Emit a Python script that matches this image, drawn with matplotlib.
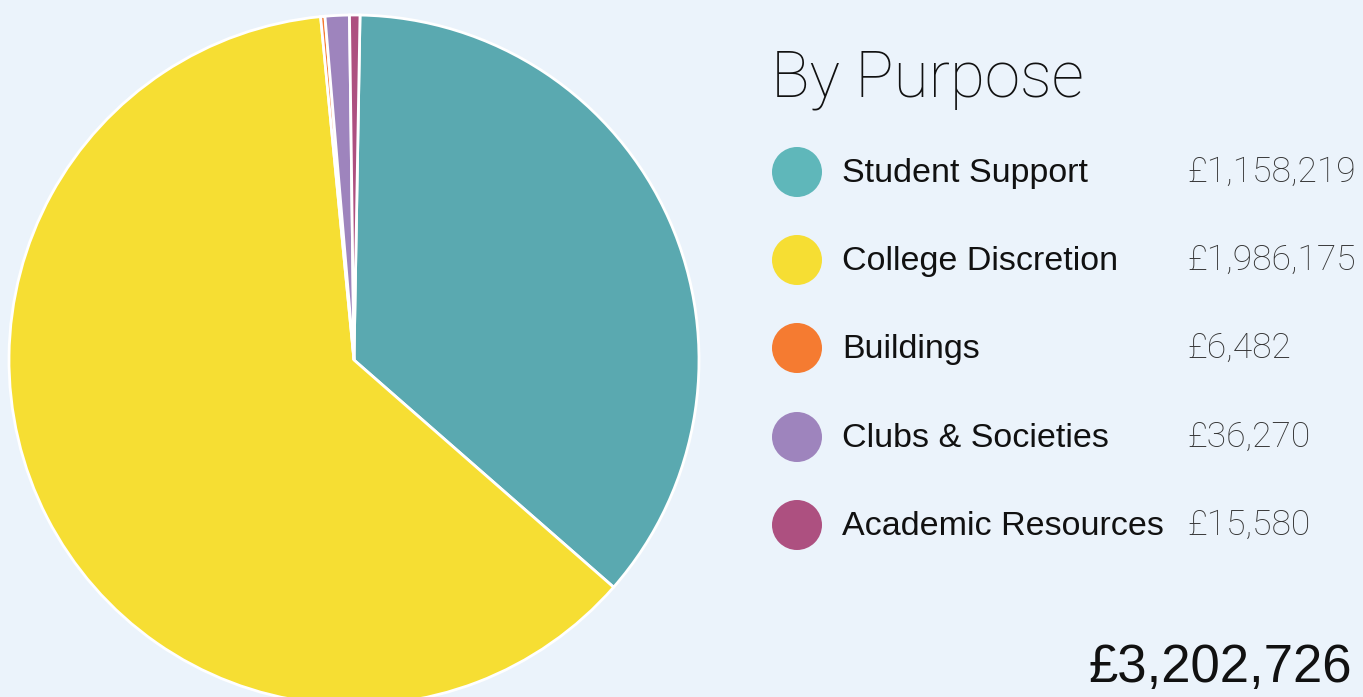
import matplotlib
matplotlib.use("Agg")
import matplotlib.pyplot as plt
from matplotlib.patches import Circle

categories = ["Student Support", "College Discretion", "Buildings", "Clubs & Societies", "Academic Resources"]
values = [1158219, 1986175, 6482, 36270, 15580]
value_labels = ["£1,158,219", "£1,986,175", "£6,482", "£36,270", "£15,580"]
total_label = "£3,202,726"
title = "By Purpose"
colors = ["#5aa9b0", "#f6de33", "#f57b31", "#9e84bd", "#ad5080"]
legend_colors = ["#5fb7ba", "#f6de33", "#f57b31", "#9e84bd", "#ad5080"]

W, H = 1363, 697
bg = "#ebf3fb"
fig = plt.figure(figsize=(W / 100, H / 100), dpi=100, facecolor=bg)

# pie axes: centre (354,360) px, radius 344 px
cx, cy, r = 354, 360, 345
ax = fig.add_axes([(cx - r) / W, (H - cy - r) / H, 2 * r / W, 2 * r / H])
ax.set_facecolor(bg)
ax.pie(values, colors=colors, startangle=89, counterclock=False,
       wedgeprops=dict(edgecolor="white", linewidth=2), radius=1.0)
ax.set_xlim(-1.0, 1.0)
ax.set_ylim(-1.0, 1.0)
ax.set_aspect("equal")
ax.axis("off")

def fx(x):
    return x / W

def fy(y):
    return 1 - y / H

fig.text(fx(771), fy(97), title, fontsize=46, family="Roboto", fontweight="light",
         color="#111111", va="baseline", ha="left")

ys = [172, 260, 348, 437, 525]
leg = fig.add_axes([0, 0, 1, 1], facecolor="none")
leg.set_xlim(0, W)
leg.set_ylim(H, 0)
leg.axis("off")
for y, lab, val, c in zip(ys, categories, value_labels, legend_colors):
    leg.add_patch(Circle((797, y), 25, color=c, lw=0))
    fig.text(fx(842), fy(y + 10), lab, fontsize=24.5, family="Liberation Sans",
             color="#111111", va="baseline", ha="left")
    fig.text(fx(1187), fy(y + 10), val, fontsize=25.5, family="Roboto", fontweight="light",
             color="#333333", va="baseline", ha="left")

fig.text(fx(1352), fy(682), total_label, fontsize=38, family="Liberation Sans",
         color="#111111", va="baseline", ha="right")

fig.savefig("out.png", dpi=100, facecolor=bg)
